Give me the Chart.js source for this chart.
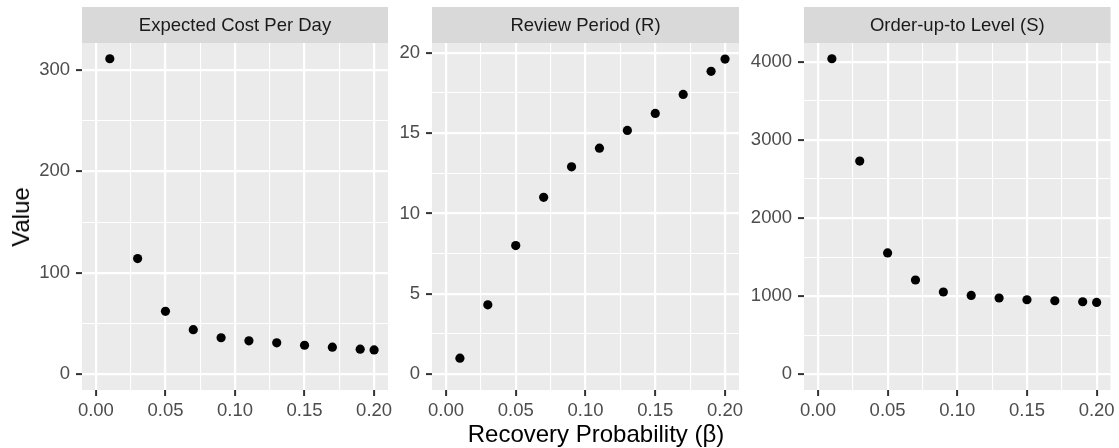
<!DOCTYPE html>
<html>
<head>
<meta charset="utf-8">
<script src="https://cdn.jsdelivr.net/npm/chart.js@4.4.1/dist/chart.umd.min.js"></script>
<style>
  body { margin: 0; background: #fff; }
  #wrap { position: relative; width: 1119px; height: 448px; overflow: hidden; font-family: "Liberation Sans", Arial, sans-serif; }
  canvas { position: absolute; top: 0; }
  .ytitle { position: absolute; left: 21px; top: 217px; transform: translate(-50%, -50%) rotate(-90deg); font-size: 24px; line-height: 24px; color: #000; white-space: nowrap; }
  .xtitle { position: absolute; left: 596px; top: 422px; transform: translateX(-50%); font-size: 24px; line-height: 24px; color: #000; white-space: nowrap; }
</style>
</head>
<body>
<div id="wrap">
  <canvas id="cost" width="400" height="448" style="left:0px"></canvas>
  <canvas id="review" width="360" height="448" style="left:390px"></canvas>
  <canvas id="orderUpTo" width="378" height="448" style="left:741px"></canvas>
  <div class="ytitle">Value</div>
  <div class="xtitle">Recovery Probability (β)</div>
</div>
<script>
const FONT = '"Liberation Sans", Arial, sans-serif';

// recovery probability on the x axis, shared by all panels
const beta = [0.01, 0.03, 0.05, 0.07, 0.09, 0.11, 0.13, 0.15, 0.17, 0.19, 0.20];

const costPerDay = [311, 114, 62, 44, 36, 33, 31, 28.6, 26.7, 24.7, 24];
const reviewPeriod = [1, 4.32, 8, 11, 12.9, 14.06, 15.16, 16.22, 17.4, 18.84, 19.6];
const orderUpToLevel = [4040, 2730, 1553, 1207, 1053, 1009, 976, 954, 941, 928, 919];

const xMajor = [0, 0.05, 0.10, 0.15, 0.20];
const xMinor = [0.025, 0.075, 0.125, 0.175];

const costMajor = [0, 100, 200, 300];
const costMinor = [50, 150, 250];
const reviewMajor = [0, 5, 10, 15, 20];
const reviewMinor = [2.5, 7.5, 12.5, 17.5];
const levelMajor = [0, 1000, 2000, 3000, 4000];
const levelMinor = [500, 1500, 2500, 3500];

const inList = (list, v) => list.some(m => Math.abs(m - v) < 1e-9);

// grey panel background + facet strip on top
const stripPlugin = {
  id: 'strip',
  beforeDraw(chart, args, opts) {
    const { ctx, chartArea: a } = chart;
    ctx.save();
    ctx.fillStyle = '#EBEBEB';
    ctx.fillRect(a.left, a.top, a.width, a.height);
    ctx.fillStyle = '#D9D9D9';
    ctx.fillRect(a.left, 7, a.width, a.top - 7);
    ctx.fillStyle = '#1A1A1A';
    ctx.font = '18.5px ' + FONT;
    ctx.textAlign = 'center';
    ctx.textBaseline = 'middle';
    ctx.fillText(opts.text, (a.left + a.right) / 2, 26);
    ctx.restore();
  }
};

function axis(major, minor, min, max, fmt, fitSize, horizontal) {
  return {
    type: 'linear',
    min: min,
    max: max,
    border: { display: false },
    afterBuildTicks(scale) {
      scale.ticks = major.concat(minor).sort((p, q) => p - q).map(v => ({ value: v }));
    },
    afterFit(scale) {
      if (horizontal) scale.height = fitSize; else scale.width = fitSize;
    },
    grid: {
      color: '#FFFFFF',
      lineWidth: c => (c.tick && inList(major, c.tick.value)) ? 2.2 : 1.1,
      drawTicks: true,
      tickLength: 6,
      tickWidth: 2,
      tickColor: c => (c.tick && inList(major, c.tick.value)) ? '#333333' : 'rgba(0,0,0,0)'
    },
    ticks: {
      autoSkip: false,
      maxRotation: 0,
      padding: horizontal ? 4 : 6,
      color: '#4D4D4D',
      font: { family: FONT, size: 18.5 },
      callback: v => inList(major, v) ? fmt(v) : ''
    }
  };
}

function panel(id, title, values, yMin, yMax, yMajor, yMinor, yWidth, padRight) {
  return new Chart(document.getElementById(id), {
    type: 'scatter',
    data: {
      datasets: [{
        data: beta.map((b, i) => ({ x: b, y: values[i] })),
        backgroundColor: '#000000',
        borderWidth: 0,
        pointRadius: 4.6,
        clip: false
      }]
    },
    options: {
      responsive: false,
      animation: false,
      layout: { padding: { top: 43, right: padRight, bottom: 0, left: 0 } },
      plugins: {
        legend: { display: false },
        tooltip: { enabled: false },
        strip: { text: title }
      },
      scales: {
        x: axis(xMajor, xMinor, -0.01, 0.21, v => v.toFixed(2), 58, true),
        y: axis(yMajor, yMinor, yMin, yMax, v => String(v), yWidth, false)
      }
    },
    plugins: [stripPlugin]
  });
}

panel('cost', 'Expected Cost Per Day', costPerDay, -15.5, 326.5, costMajor, costMinor, 82, 12);
panel('review', 'Review Period (R)', reviewPeriod, -0.98, 20.6, reviewMajor, reviewMinor, 42, 11);
panel('orderUpTo', 'Order-up-to Level (S)', orderUpToLevel, -202, 4242, levelMajor, levelMinor, 63, 8);
</script>
</body>
</html>
